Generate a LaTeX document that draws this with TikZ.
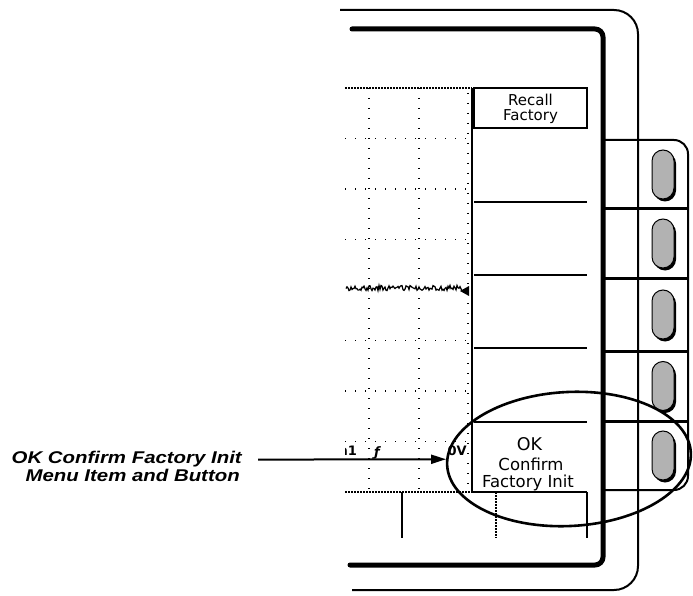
\documentclass[tikz,border=0pt]{standalone}
\usepackage{fontspec}
\setmainfont{DejaVu Sans}
\newfontfamily\lblfont{Liberation Sans}
\usetikzlibrary{shapes.geometric,arrows.meta}
\tikzset{
  bezelthin/.style={line width=2pt},
  bezelthick/.style={line width=5pt,line cap=round,line join=round},
  housing/.style={line width=2pt},
  divider/.style={line width=3pt},
  menuline/.style={line width=1.5pt},
  gridline/.style={line width=1.4pt,dash pattern=on 1.4pt off 8.6pt},
  densedot/.style={line width=1.4pt,dash pattern=on 2pt off 1pt},
  btn/.style={draw,line width=1pt,fill=black!30,rectangle,rounded corners=11pt,minimum width=22pt,minimum height=49pt,inner sep=0pt},
  btnshadow/.style={fill=black,rectangle,rounded corners=11pt,minimum width=22pt,minimum height=49pt,inner sep=0pt},
  menutext/.style={font=\fontsize{15}{15}\selectfont,inner sep=0pt},
  oktext/.style={font=\fontsize{16.5}{16.5}\selectfont,inner sep=0pt},
  readout/.style={font=\bfseries\fontsize{13}{13}\selectfont,inner sep=0pt},
  lbl/.style={font=\lblfont\bfseries\itshape\fontsize{17}{17}\selectfont,inner sep=0pt,xscale=1.2,transform shape},
  pointer/.style={line width=2pt,-{Triangle[length=15pt,width=9pt]}},
  highlight/.style={draw,ellipse,line width=2.6pt,minimum width=244pt,minimum height=134pt,inner sep=0pt,rotate=3}
}
\begin{document}
\begin{tikzpicture}[x=1pt,y=-1pt]
\useasboundingbox[fill=white] (0,0) rectangle (693,596);

% ---- graticule ----
\foreach \gx in {369,419} \draw[gridline] (\gx,88) -- (\gx,492);
\foreach \gy in {138.5,189,239.5,340.5,391,441.5} \draw[gridline] (345,\gy) -- (472,\gy);
\draw[gridline] (468,93) -- (468,492);
\draw[densedot] (345,88) -- (472,88);
\draw[densedot,line width=1.8pt] (345,492) -- (472,492);
\draw[line width=1.6pt] (472,88) -- (472,492);

% waveform
\pgfmathsetseed{7}
\draw[line width=1.2pt] plot[domain=346:462,samples=117] (\x,{288+2.6*rand});
\fill (469,286) -- (469,296) -- (460,291) -- cycle;

% readout
\begin{scope}
\clip (345,430) rectangle (480,470);
\node[readout,anchor=base east] (ch) at (357,455) {Ch1};
\end{scope}
\node[readout,anchor=base] (slope) at (377,456) {\itshape ƒ};
\node[readout,anchor=base east] (lvl) at (467,455) {0V};

% ---- menu ----
\node[draw,menuline,minimum width=113pt,minimum height=40pt,inner sep=0pt] (recallbox) at (530.5,108) {};
\node[menutext,anchor=base] (recall) at (530.5,106) {Recall};
\node[menutext,anchor=base] (factory) at (530.5,121) {Factory};
\foreach \sy in {202,275,348,422} \draw[menuline] (474,\sy) -- (587,\sy);
\node[font=\fontsize{17.5}{17.5}\selectfont,inner sep=0pt,anchor=base] (ok) at (529.5,450) {OK};
\node[oktext,anchor=base] (confirm) at (531,470) {Confirm};
\node[oktext,anchor=base] (facinit) at (528,487) {Factory Init};
\draw[menuline,line width=1.8pt] (472,492) -- (587,492);
\draw[line width=1.8pt] (402,492) -- (402,538);
\draw[line width=1.2pt,dash pattern=on 1.5pt off 1.5pt] (496,492) -- (496,538);
\draw[line width=1.8pt] (587,492) -- (587,538);

% ---- bezels ----
\draw[bezelthin,rounded corners=24pt] (340,10) -- (638,10) -- (638,590) -- (352,590);
\draw[bezelthick,rounded corners=8pt] (352,29) -- (603,29) -- (603,565) -- (350,565);

% ---- button housing ----
\draw[housing,rounded corners=14pt] (603,140) -- (688,140) -- (688,490) -- (603,490);
\foreach \dy in {209,278,351,421} \draw[divider] (603,\dy) -- (688,\dy);
\foreach \i/\by in {1/174.5,2/243.5,3/314.5,4/386,5/455.5}{
  \node[btnshadow] at (665,\by+2.5) {};
  \node[btn] (btn\i) at (663,\by) {};
}

% ---- highlight and label ----
\node[highlight] (hl) at (569,459) {};
\node[lbl,anchor=base east] (lbl1) at (242,463) {OK Confirm Factory Init};
\node[lbl,anchor=base east] (lbl2) at (240,481.5) {Menu Item and Button};
\draw[pointer] ([xshift=16pt,yshift=-1pt]lbl1.east) -- (hl);
\end{tikzpicture}
\end{document}
